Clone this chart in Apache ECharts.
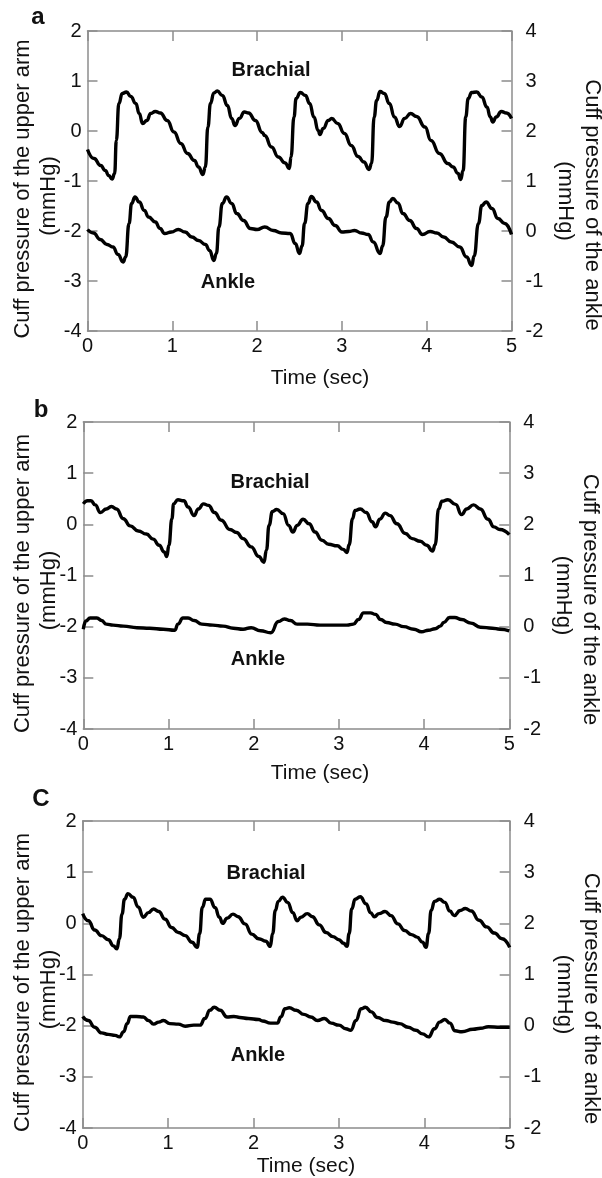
<!DOCTYPE html>
<html>
<head>
<meta charset="utf-8">
<script src="https://cdn.jsdelivr.net/npm/echarts@6.0.0/dist/echarts.min.js"></script>
<style>
    html, body {margin: 0; padding: 0; background: #ffffff;}
    #chart {width: 602px; height: 1178px;}
</style>
</head>
<body>
<div id="chart"></div>
<script>
// time (sec) -> cuff pressure of the upper arm (mmHg), left axis
var brachialA = [[0,-0.37],[0.077,-0.55],[0.155,-0.69],[0.21,-0.79],[0.25,-0.89],[0.29,-0.96],[0.32,-0.85],[0.34,-0.19],[0.37,0.55],[0.41,0.75],[0.46,0.78],[0.51,0.69],[0.57,0.55],[0.61,0.35],[0.65,0.15],[0.70,0.21],[0.745,0.35],[0.80,0.39],[0.86,0.36],[0.94,0.21],[1.02,-0.02],[1.10,-0.25],[1.18,-0.45],[1.26,-0.59],[1.31,-0.72],[1.36,-0.87],[1.39,-0.72],[1.42,0.08],[1.45,0.55],[1.49,0.76],[1.53,0.80],[1.59,0.71],[1.65,0.51],[1.70,0.25],[1.74,0.11],[1.79,0.25],[1.85,0.38],[1.90,0.36],[1.98,0.21],[2.06,-0.03],[2.09,-0.09],[2.17,-0.32],[2.25,-0.52],[2.33,-0.64],[2.38,-0.75],[2.40,-0.52],[2.435,0.28],[2.46,0.65],[2.51,0.77],[2.57,0.71],[2.62,0.55],[2.67,0.28],[2.72,0.01],[2.74,-0.07],[2.78,0.05],[2.84,0.21],[2.88,0.25],[2.95,0.15],[3.03,-0.05],[3.11,-0.29],[3.19,-0.51],[3.26,-0.62],[3.32,-0.77],[3.35,-0.65],[3.38,0.28],[3.41,0.61],[3.45,0.79],[3.50,0.75],[3.56,0.55],[3.62,0.28],[3.68,0.09],[3.74,0.25],[3.81,0.35],[3.88,0.29],[3.98,0.08],[4.05,-0.19],[4.15,-0.45],[4.25,-0.65],[4.31,-0.72],[4.37,-0.85],[4.40,-0.97],[4.43,-0.79],[4.46,0.28],[4.49,0.65],[4.53,0.77],[4.59,0.78],[4.65,0.68],[4.71,0.48],[4.75,0.28],[4.78,0.18],[4.82,0.28],[4.88,0.39],[4.94,0.36],[5.0,0.25]];
var brachialB = [[0,0.40],[0.05,0.46],[0.09,0.46],[0.14,0.38],[0.20,0.23],[0.27,0.30],[0.33,0.35],[0.39,0.30],[0.47,0.11],[0.55,-0.03],[0.645,-0.13],[0.74,-0.19],[0.82,-0.29],[0.89,-0.41],[0.95,-0.54],[0.98,-0.63],[1.005,-0.41],[1.04,0.11],[1.06,0.40],[1.11,0.48],[1.18,0.46],[1.23,0.34],[1.30,0.17],[1.35,0.30],[1.41,0.40],[1.47,0.37],[1.54,0.23],[1.62,0.08],[1.72,-0.10],[1.80,-0.16],[1.875,-0.28],[1.97,-0.44],[2.06,-0.63],[2.12,-0.74],[2.15,-0.5],[2.18,-0.02],[2.22,0.25],[2.27,0.29],[2.345,0.21],[2.41,-0.02],[2.46,-0.15],[2.51,-0.02],[2.58,0.10],[2.65,0.01],[2.72,-0.15],[2.80,-0.31],[2.88,-0.39],[2.98,-0.42],[3.05,-0.49],[3.095,-0.55],[3.12,-0.4],[3.16,0.11],[3.19,0.27],[3.25,0.30],[3.32,0.23],[3.39,0.05],[3.43,-0.05],[3.48,0.10],[3.545,0.22],[3.60,0.17],[3.68,0.01],[3.78,-0.18],[3.86,-0.28],[3.955,-0.33],[4.03,-0.41],[4.10,-0.52],[4.13,-0.4],[4.17,0.30],[4.21,0.45],[4.28,0.48],[4.37,0.39],[4.44,0.19],[4.50,0.30],[4.58,0.38],[4.66,0.30],[4.75,0.10],[4.82,-0.05],[4.89,-0.10],[5.0,-0.20]];
var brachialC = [[0,0.19],[0.066,0.05],[0.14,-0.13],[0.22,-0.24],[0.30,-0.32],[0.36,-0.44],[0.40,-0.50],[0.43,-0.3],[0.46,0.18],[0.49,0.47],[0.53,0.58],[0.59,0.51],[0.65,0.32],[0.71,0.12],[0.77,0.21],[0.83,0.28],[0.89,0.23],[0.965,0.08],[1.04,-0.08],[1.12,-0.18],[1.20,-0.24],[1.28,-0.37],[1.34,-0.47],[1.37,-0.2],[1.40,0.31],[1.44,0.47],[1.49,0.47],[1.55,0.31],[1.60,0.12],[1.64,0.0],[1.69,0.10],[1.76,0.18],[1.82,0.13],[1.90,-0.01],[1.98,-0.21],[2.06,-0.30],[2.145,-0.35],[2.195,-0.45],[2.225,-0.2],[2.255,0.25],[2.29,0.43],[2.34,0.51],[2.40,0.41],[2.46,0.21],[2.51,0.05],[2.555,0.12],[2.63,0.19],[2.69,0.13],[2.77,-0.03],[2.85,-0.18],[2.93,-0.26],[3.00,-0.32],[3.055,-0.39],[3.095,-0.45],[3.12,-0.2],[3.15,0.28],[3.19,0.47],[3.25,0.52],[3.32,0.38],[3.37,0.21],[3.415,0.13],[3.47,0.19],[3.54,0.23],[3.61,0.15],[3.69,-0.01],[3.77,-0.14],[3.85,-0.22],[3.915,-0.27],[3.98,-0.37],[4.02,-0.47],[4.05,-0.2],[4.08,0.25],[4.12,0.43],[4.18,0.47],[4.24,0.41],[4.30,0.24],[4.35,0.15],[4.42,0.25],[4.48,0.29],[4.55,0.24],[4.64,0.06],[4.73,-0.07],[4.82,-0.19],[4.91,-0.30],[5.0,-0.47]];

// time (sec) -> cuff pressure of the ankle (mmHg), right axis
var ankleA = [[0,0.03],[0.07,-0.04],[0.15,-0.17],[0.23,-0.27],[0.30,-0.32],[0.36,-0.47],[0.42,-0.62],[0.45,-0.52],[0.49,0.15],[0.52,0.55],[0.56,0.68],[0.61,0.58],[0.67,0.41],[0.72,0.28],[0.80,0.18],[0.855,0.05],[0.91,-0.05],[0.99,-0.02],[1.07,0.03],[1.15,-0.02],[1.23,-0.12],[1.31,-0.19],[1.39,-0.27],[1.44,-0.39],[1.49,-0.59],[1.52,-0.45],[1.55,0.08],[1.59,0.55],[1.64,0.68],[1.70,0.55],[1.76,0.35],[1.84,0.21],[1.92,0.05],[2.0,0.03],[2.09,0.08],[2.19,0.01],[2.29,-0.04],[2.39,-0.05],[2.45,-0.25],[2.50,-0.45],[2.53,-0.3],[2.56,0.15],[2.60,0.55],[2.64,0.69],[2.70,0.58],[2.76,0.41],[2.84,0.25],[2.92,0.11],[3.0,-0.02],[3.08,-0.01],[3.15,0.01],[3.23,-0.04],[3.31,-0.07],[3.37,-0.22],[3.45,-0.45],[3.48,-0.3],[3.52,0.28],[3.56,0.58],[3.60,0.65],[3.66,0.56],[3.72,0.35],[3.80,0.21],[3.88,0.05],[3.95,-0.07],[4.04,-0.01],[4.12,-0.04],[4.20,-0.12],[4.29,-0.22],[4.39,-0.32],[4.47,-0.52],[4.53,-0.69],[4.56,-0.5],[4.61,0.15],[4.65,0.51],[4.70,0.58],[4.77,0.45],[4.84,0.25],[4.92,0.15],[5.0,-0.07]];
var ankleB = [[0,-0.05],[0.03,0.11],[0.08,0.17],[0.16,0.17],[0.215,0.12],[0.27,0.05],[0.35,0.03],[0.47,0.01],[0.63,-0.02],[0.78,-0.03],[0.94,-0.05],[1.075,-0.07],[1.11,0.05],[1.17,0.17],[1.23,0.17],[1.30,0.12],[1.39,0.05],[1.52,0.03],[1.64,0.01],[1.76,-0.03],[1.875,-0.05],[1.97,-0.02],[2.08,-0.08],[2.20,-0.12],[2.29,0.10],[2.36,0.15],[2.43,0.12],[2.51,0.05],[2.63,0.05],[2.78,0.03],[2.94,0.03],[3.095,0.03],[3.17,0.05],[3.23,0.14],[3.29,0.27],[3.37,0.27],[3.43,0.24],[3.49,0.14],[3.56,0.08],[3.66,0.05],[3.76,0.0],[3.88,-0.05],[3.97,-0.10],[4.05,-0.07],[4.13,-0.04],[4.19,0.01],[4.23,0.08],[4.30,0.18],[4.36,0.18],[4.44,0.14],[4.55,0.07],[4.66,-0.01],[4.80,-0.03],[4.89,-0.05],[5.0,-0.08]];
var ankleC = [[0,0.18],[0.066,0.10],[0.14,-0.03],[0.22,-0.14],[0.30,-0.17],[0.38,-0.19],[0.43,-0.22],[0.48,-0.12],[0.52,0.04],[0.56,0.18],[0.63,0.18],[0.71,0.17],[0.77,0.10],[0.83,0.03],[0.89,0.07],[0.945,0.10],[1.02,0.04],[1.12,0.03],[1.20,-0.01],[1.30,0.01],[1.375,0.01],[1.43,0.14],[1.49,0.30],[1.54,0.36],[1.61,0.30],[1.69,0.17],[1.77,0.18],[1.84,0.16],[1.94,0.14],[2.06,0.12],[2.105,0.09],[2.20,0.05],[2.28,0.05],[2.32,0.17],[2.37,0.33],[2.42,0.35],[2.50,0.30],[2.59,0.22],[2.67,0.17],[2.75,0.10],[2.83,0.14],[2.91,0.05],[3.00,0.01],[3.08,-0.06],[3.14,-0.09],[3.20,0.10],[3.26,0.33],[3.31,0.36],[3.38,0.27],[3.45,0.16],[3.55,0.10],[3.63,0.07],[3.71,0.04],[3.81,-0.03],[3.90,-0.09],[3.98,-0.16],[4.05,-0.22],[4.12,-0.06],[4.18,0.07],[4.24,0.12],[4.30,0.05],[4.36,-0.10],[4.44,-0.12],[4.57,-0.07],[4.66,-0.05],[4.75,-0.02],[4.89,-0.03],[5.0,-0.03]];

var panelLetters = ['a', 'b', 'C'];
var leftRange = [-4, 2];
var rightRange = [-2, 4];
var timeRange = [0, 5];

var brachialSets = [brachialA, brachialB, brachialC];
var ankleSets = [ankleA, ankleB, ankleC];

// layout of the three panels (pixels)
var panels = [
    {left: 87.5, top: 31, width: 424, height: 300, brachial: [271, 70], ankle: [228, 282], letter: [38, 17], time: [320, 378]},
    {left: 83.3, top: 422, width: 426, height: 307, brachial: [270, 482], ankle: [258, 659], letter: [41, 410], time: [320, 773]},
    {left: 82.7, top: 821, width: 427, height: 307, brachial: [266, 873], ankle: [258, 1055], letter: [41, 799], time: [306, 1166]}
];

var FONT = '"Liberation Sans", Arial, sans-serif';
var frameColor = '#8c8c8c';

var chart = echarts.init(document.getElementById('chart'), null, {renderer: 'canvas'});

function axisLineStyle() {
    return {show: true, onZero: false, lineStyle: {color: frameColor, width: 1.5}};
}

function axisTickStyle() {
    return {show: true, inside: true, length: 10, lineStyle: {color: frameColor, width: 1.5}};
}

function tickLabel(margin) {
    return {color: '#111', fontSize: 20, fontFamily: FONT, margin: margin, showMinLabel: true, showMaxLabel: true};
}

function txt(x, y, text, size, weight, rotation) {
    return {
        type: 'text',
        x: x,
        y: y,
        rotation: rotation || 0,
        silent: true,
        style: {
            text: text,
            fill: '#111111',
            font: (weight || 'normal') + ' ' + size + 'px ' + FONT,
            align: 'center',
            verticalAlign: 'middle'
        }
    };
}

var grids = [], xAxes = [], yAxes = [], series = [], graphics = [];

for (var i = 0; i < panels.length; i++) {
    var p = panels[i];
    grids.push({left: p.left, top: p.top, width: p.width, height: p.height, show: false});

    // bottom time axis
    xAxes.push({
        gridIndex: i, type: 'value', position: 'bottom',
        min: timeRange[0], max: timeRange[1], interval: 1,
        axisLine: axisLineStyle(), axisTick: axisTickStyle(),
        axisLabel: tickLabel(5),
        splitLine: {show: false}
    });
    // top frame
    xAxes.push({
        gridIndex: i, type: 'value', position: 'top',
        min: timeRange[0], max: timeRange[1], interval: 1,
        axisLine: axisLineStyle(), axisTick: axisTickStyle(),
        axisLabel: {show: false}, splitLine: {show: false}
    });
    yAxes.push({
        gridIndex: i, type: 'value', position: 'left',
        min: leftRange[0], max: leftRange[1], interval: 1,
        axisLine: axisLineStyle(), axisTick: axisTickStyle(),
        axisLabel: tickLabel(6),
        splitLine: {show: false}
    });
    yAxes.push({
        gridIndex: i, type: 'value', position: 'right',
        min: rightRange[0], max: rightRange[1], interval: 1,
        axisLine: axisLineStyle(), axisTick: axisTickStyle(),
        axisLabel: tickLabel(14),
        splitLine: {show: false}
    });

    series.push({
        name: 'Brachial ' + panelLetters[i], type: 'line',
        xAxisIndex: 2 * i, yAxisIndex: 2 * i,
        data: brachialSets[i],
        showSymbol: false, smooth: 0.5, smoothMonotone: 'x',
        lineStyle: {color: '#000', width: 3.4}
    });
    series.push({
        name: 'Ankle ' + panelLetters[i], type: 'line',
        xAxisIndex: 2 * i, yAxisIndex: 2 * i + 1,
        data: ankleSets[i],
        showSymbol: false, smooth: 0.5, smoothMonotone: 'x',
        lineStyle: {color: '#000', width: 3.4}
    });

    var cy = p.top + p.height / 2;
    graphics.push(txt(p.letter[0], p.letter[1], panelLetters[i], 24, 'bold'));
    graphics.push(txt(p.brachial[0], p.brachial[1], 'Brachial', 20, 'bold'));
    graphics.push(txt(p.ankle[0], p.ankle[1], 'Ankle', 20, 'bold'));
    graphics.push(txt(p.time[0], p.time[1], 'Time (sec)', 21));
    graphics.push(txt(23, cy + 8, 'Cuff pressure of the upper arm', 22, 'normal', Math.PI / 2));
    graphics.push(txt(49, cy + 15, '(mmHg)', 22, 'normal', Math.PI / 2));
    graphics.push(txt(p.left + p.width + 54, cy + 20, '(mmHg)', 22, 'normal', -Math.PI / 2));
    graphics.push(txt(p.left + p.width + 81, cy + 24, 'Cuff pressure of the ankle', 22, 'normal', -Math.PI / 2));
}

var option = {
    backgroundColor: '#ffffff',
    animation: false,
    grid: grids,
    xAxis: xAxes,
    yAxis: yAxes,
    series: series,
    graphic: graphics
};

chart.setOption(option);
</script>
</body>
</html>
